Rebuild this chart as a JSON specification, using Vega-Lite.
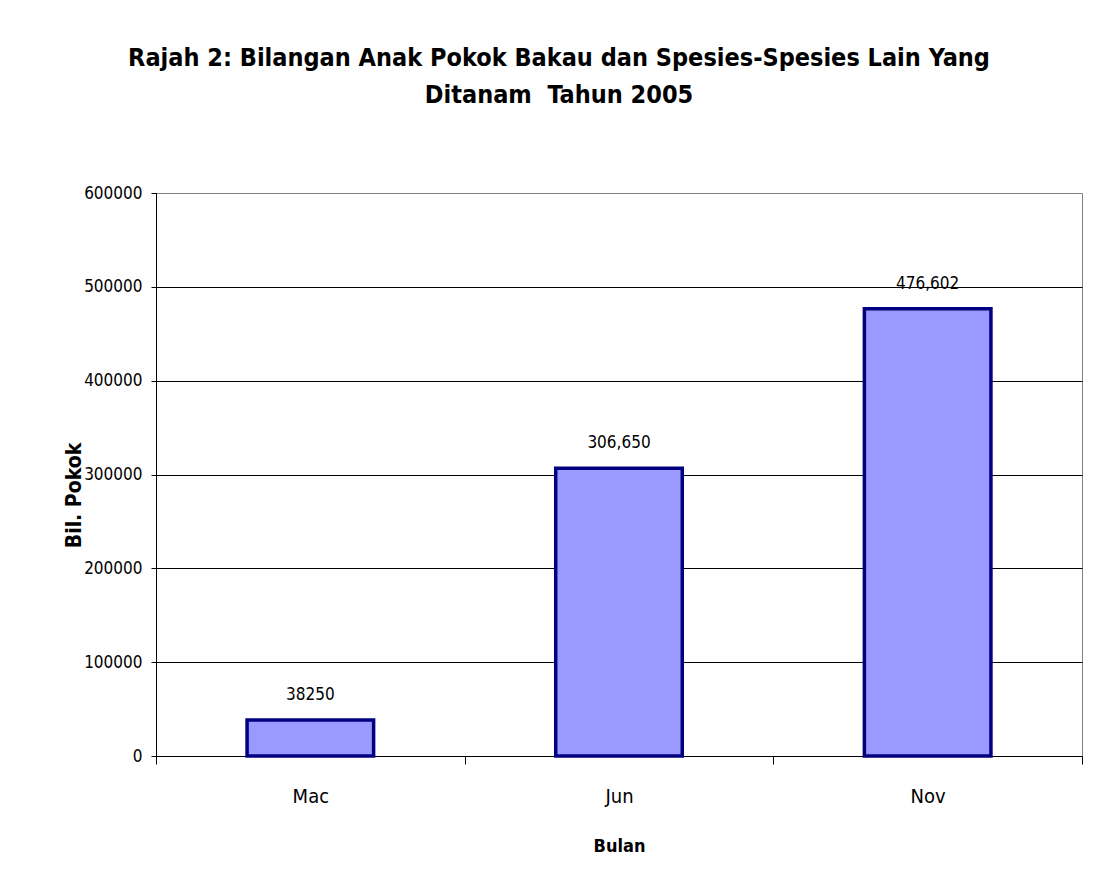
{
  "$schema": "https://vega.github.io/schema/vega-lite/v6.json",
  "autosize": {"type": "none"},
  "width": 926,
  "height": 563,
  "padding": {"left": 156, "top": 193, "right": 27, "bottom": 128},
  "background": "white",
  "config": {
    "font": "DejaVu Sans Condensed, Liberation Sans, sans-serif",
    "view": {"stroke": "#808080", "strokeWidth": 1}
  },
  "title": {
    "text": ["Rajah 2: Bilangan Anak Pokok Bakau dan Spesies-Spesies Lain Yang", "Ditanam\u00a0 Tahun 2005"],
    "font": "DejaVu Sans Condensed, Liberation Sans, sans-serif",
    "fontSize": 25,
    "fontWeight": "bold",
    "lineHeight": 37,
    "anchor": "middle",
    "dx": -60,
    "offset": 76,
    "color": "black"
  },
  "data": {
    "values": [
      {"month": "Mac", "value": 38250, "label": "38250"},
      {"month": "Jun", "value": 306650, "label": "306,650"},
      {"month": "Nov", "value": 476602, "label": "476,602"}
    ]
  },
  "encoding": {
    "x": {
      "field": "month",
      "type": "nominal",
      "sort": null,
      "scale": {"paddingInner": 0, "paddingOuter": 0},
      "axis": {
        "title": "Bulan",
        "titleFontSize": 18,
        "titleFontWeight": "bold",
        "titleColor": "black",
        "titleBaseline": "alphabetic",
        "titleY": 95,
        "labelAngle": 0,
        "labelFontSize": 20,
        "labelColor": "black",
        "labelPadding": 22,
        "tickBand": "extent",
        "tickSize": 8,
        "tickColor": "black",
        "domainColor": "black",
        "grid": false
      }
    },
    "y": {
      "field": "value",
      "type": "quantitative",
      "scale": {"domain": [0, 600000], "nice": false},
      "axis": {
        "title": "Bil. Pokok",
        "titleFontSize": 21,
        "titleFontWeight": "bold",
        "titleColor": "black",
        "titleAngle": 270,
        "titleBaseline": "alphabetic",
        "titleAlign": "center",
        "titleX": -76,
        "titleY": 302,
        "values": [0, 100000, 200000, 300000, 400000, 500000, 600000],
        "format": "d",
        "labelFontSize": 17,
        "labelColor": "black",
        "labelPadding": 9,
        "tickSize": 5,
        "tickColor": "black",
        "domainColor": "black",
        "grid": true,
        "gridColor": {"condition": {"test": "datum.value === 600000", "value": "#808080"}, "value": "black"},
        "gridOpacity": 1
      }
    }
  },
  "layer": [
    {
      "mark": {"type": "bar", "width": {"band": 0.41}, "fill": "#9999FF", "stroke": "#000080", "strokeWidth": 3.5}
    },
    {
      "mark": {"type": "text", "baseline": "alphabetic", "dy": -20, "fontSize": 17, "color": "black"},
      "encoding": {"text": {"field": "label"}}
    }
  ]
}
